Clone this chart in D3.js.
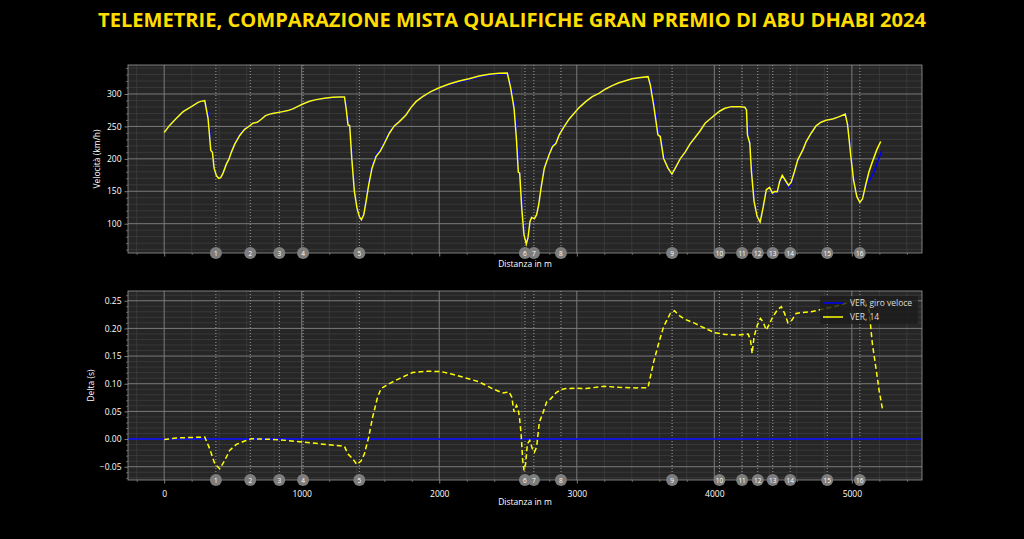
<!DOCTYPE html>
<html>
<head>
<meta charset="utf-8">
<script src="https://cdn.jsdelivr.net/npm/d3@7"></script>
<style>
  body { margin: 0; background: #000; }
  svg { display: block; }
  text { font-family: 'Open Sans', 'Noto Sans', sans-serif; }
</style>
</head>
<body>
<svg id="container" width="1024" height="539"></svg>
<script>
(function (d3) {
  'use strict';

  // speed traces, [distance m, km/h]
  const fastLapSpeed = [
    [0,240.5],[41,252],[89,262.6],[138,272.8],[198,280.5],[247,287],[271,289],[295,289.7],[322,268],[341,215],[353,209],
    [365,184],[380,173],[397,170.5],[411,171],[428,178.5],[452,192.5],[471,200.5],[488,211],[513,224],[549,237.5],[585,246.5],
    [621,251.2],[645,255],[677,256.4],[706,261],[737,266.7],[779,269.7],[827,271.3],[863,272.8],[899,274.4],[936,277],
    [972,281],[1008,284.6],[1057,288.7],[1105,291.3],[1166,293],[1226,294.6],[1274,295.2],[1314,295.4],[1327,277],[1341,252],
    [1352,250.5],[1367,200],[1385,149],[1403,123.5],[1419,111],[1434,106.5],[1451,115],[1468,137],[1487,164],[1511,189],
    [1540,206.5],[1572,215],[1601,226.5],[1637,241],[1673,251.5],[1710,258],[1758,268],[1794,279],[1831,288],[1879,295.5],
    [1939,303],[2000,309],[2072,314.5],[2145,318.8],[2217,322.4],[2290,326.4],[2362,329.2],[2435,330.8],[2500,331.6],
    [2526,308],[2550,278],[2566,232],[2580,180],[2590,177],[2604,124],[2619,84],[2635,69],[2647,78],[2661,103],[2673,109.5],
    [2692,107.5],[2708,114],[2723,130],[2740,156.5],[2764,187],[2781,197.5],[2800,209],[2824,221],[2848,226],[2872,238.5],
    [2908,250.5],[2945,262],[2981,270.5],[3017,279],[3065,288.2],[3113,295.9],[3161,301],[3210,307.7],[3258,312.8],
    [3306,317.4],[3354,320.5],[3402,323.6],[3451,325.1],[3522,326.5],[3542,313],[3566,283],[3596,237],[3612,234],
    [3636,201],[3665,184.5],[3694,176],[3716,184.5],[3752,199],[3788,209.5],[3824,222.5],[3860,232.5],[3896,243],
    [3933,254.9],[3969,261.5],[4005,267.7],[4041,273.5],[4077,277.8],[4125,280.3],[4186,280.3],[4224,279.5],[4237,275],
    [4245,237],[4262,224],[4274,180],[4292,134],[4312,110.5],[4333,102.6],[4354,124],[4378,151.5],[4402,155],[4422,146],
    [4439,148.5],[4458,148],[4475,163.5],[4494,172.5],[4518,165],[4540,156],[4559,161],[4583,178.5],[4607,197],[4644,213],
    [4668,226],[4704,239],[4740,250.5],[4776,256.4],[4812,259.5],[4861,261.5],[4909,265.1],[4955,269],[4972,252],[4996,203.6],
    [5014,168],[5037,142.5],[5058,133],[5077,138],[5101,157],[5113,162.6],[5138,170],[5162,180.5],[5190,197],[5217,212]
  ];

  const lap14Speed = [
    [0,240.5],[41,252],[89,262.6],[138,272.8],[198,280.5],[247,287],[271,289],[295,289.7],[319,262.6],[339,212.8],[351,210],
    [363,185.6],[380,173.8],[397,170],[411,171],[428,178],[452,191.8],[471,199.5],[488,210],[513,222.6],[549,236],[585,245.6],
    [621,250.8],[645,255],[677,256.4],[706,261],[737,266.7],[779,269.7],[827,271.3],[863,272.8],[899,274.4],[936,277],
    [972,281],[1008,284.6],[1057,288.7],[1105,291.3],[1166,293.3],[1226,295],[1274,295.4],[1311,295.4],[1323,278],[1337,252.3],
    [1349,251.4],[1364,201],[1383,149.7],[1402,124],[1419,111],[1434,106],[1451,113.8],[1468,134.4],[1487,160],[1511,185.6],
    [1540,203.6],[1572,212.3],[1601,224],[1637,239.5],[1673,250.8],[1710,257.4],[1758,267.7],[1794,279],[1831,288.2],
    [1879,296],[1939,303.6],[2000,309.7],[2072,315.4],[2145,320],[2217,323.6],[2290,327.7],[2362,330.3],[2435,331.8],
    [2495,332.3],[2520,308.7],[2544,278],[2561,231.8],[2575,179.5],[2585,178],[2600,124],[2616,83.2],[2633,68.7],[2645,78],
    [2660,103.6],[2672,109.7],[2692,107.7],[2708,113.8],[2723,129.2],[2740,154.9],[2764,185.6],[2781,195.9],[2800,207.2],
    [2824,219],[2848,223.6],[2872,236.9],[2908,249.7],[2945,261.5],[2981,270.3],[3017,279],[3065,288.2],[3113,295.9],
    [3161,301],[3210,307.7],[3258,312.8],[3306,317.4],[3354,320.5],[3402,323.6],[3451,325.1],[3518,326.7],[3535,313.8],
    [3559,283],[3590,236.9],[3607,234.4],[3631,201],[3663,185.6],[3692,176.4],[3716,185.6],[3752,200],[3788,210.3],
    [3824,223.1],[3860,232.8],[3896,243],[3933,254.9],[3969,261.5],[4005,267.7],[4041,273.8],[4077,278],[4125,280.5],
    [4186,280.5],[4222,279.5],[4234,275.4],[4241,236.9],[4258,224.1],[4270,180.5],[4289,134.4],[4311,111.3],[4333,102.6],
    [4354,124.1],[4378,152.3],[4402,155.9],[4422,147.2],[4439,149.7],[4458,149.2],[4475,165.1],[4494,174.4],[4518,166.2],
    [4540,159],[4559,164.1],[4583,180.5],[4607,198.5],[4644,213.8],[4668,226.7],[4704,239.5],[4740,250.8],[4776,256.4],
    [4812,259.5],[4861,261.5],[4909,265.1],[4952,269.2],[4969,252.3],[4993,203.6],[5012,167.7],[5036,142.1],[5058,132.8],
    [5077,138],[5101,160],[5125,180.5],[5150,195.9],[5181,213.8],[5210,226.7]
  ];

  // time delta of lap 14 vs fast lap, [distance m, s]
  const lap14Delta = [
    [0,-0.001],[89,0.002],[210,0.003],[295,0.0036],[331,-0.0175],[368,-0.0447],[404,-0.0538],[440,-0.0387],[476,-0.0205],
    [525,-0.0097],[585,-0.0036],[634,0.0006],[694,0],[791,-0.0006],[887,-0.0024],[1008,-0.0054],[1129,-0.0085],[1250,-0.0115],
    [1311,-0.0133],[1335,-0.0266],[1371,-0.0356],[1400,-0.0459],[1431,-0.0399],[1456,-0.0266],[1487,0.0036],[1516,0.0399],
    [1552,0.0761],[1577,0.0912],[1637,0.1003],[1710,0.1093],[1806,0.1202],[1903,0.1226],[2012,0.122],[2096,0.1172],
    [2193,0.1105],[2290,0.1033],[2387,0.0912],[2459,0.0834],[2507,0.0852],[2527,0.0761],[2544,0.0489],[2561,0.061],
    [2573,0.055],[2583,0.04],[2595,0.0097],[2607,-0.0387],[2616,-0.0568],[2628,-0.0447],[2641,-0.0085],[2658,-0.0024],
    [2677,-0.0175],[2692,-0.0236],[2708,-0.0145],[2728,0.0308],[2752,0.0459],[2781,0.067],[2812,0.0731],[2848,0.0834],
    [2884,0.0894],[2920,0.0912],[2993,0.0918],[3065,0.0912],[3198,0.0954],[3306,0.0936],[3427,0.0924],[3518,0.093],
    [3535,0.1123],[3559,0.1395],[3595,0.1727],[3631,0.2029],[3680,0.2271],[3711,0.2319],[3740,0.2241],[3788,0.2162],
    [3860,0.209],[3933,0.2],[4005,0.1921],[4077,0.1891],[4174,0.1878],[4246,0.1897],[4263,0.1788],[4275,0.1546],
    [4289,0.1848],[4313,0.206],[4335,0.218],[4354,0.212],[4378,0.1969],[4402,0.209],[4426,0.2211],[4458,0.2331],
    [4487,0.2392],[4511,0.2271],[4535,0.2102],[4564,0.215],[4595,0.2271],[4644,0.2289],[4704,0.2301],[4776,0.2343],
    [4873,0.2392],[4969,0.2464],[5041,0.25],[5089,0.2513],[5125,0.2331],[5149,0.1727],[5181,0.1184],[5198,0.0882],[5222,0.055]
  ];

  const cornerDistances = [376, 626, 837, 1010, 1419, 2623, 2688, 2885, 3693, 4037, 4202, 4316, 4425, 4552, 4821, 5058];
  const cornerLabels = ['1','2','3','4','5','6','7','8','9','10','11','12','13','14','15','16'];

  const distanceTicks = [0, 1000, 2000, 3000, 4000, 5000];
  const speedTicks = [100, 150, 200, 250, 300];
  const deltaTicks = [-0.05, 0, 0.05, 0.10, 0.15, 0.20, 0.25];

  const seriesNames = ['VER, giro veloce', 'VER, 14'];
  const FAST_COLOR = '#0000ff';
  const LAP_COLOR = '#ffff00';

  const LEFT = 128;
  const RIGHT = 922;

  const svg = d3.select('#container');
  svg.append('rect').attr('width', 1024).attr('height', 539).attr('fill', '#000');

  svg.append('text')
    .attr('x', 512).attr('y', 27)
    .attr('text-anchor', 'middle')
    .attr('textLength', 828)
    .attr('lengthAdjust', 'spacingAndGlyphs')
    .attr('font-size', 20)
    .attr('font-weight', 'bold')
    .attr('fill', '#ffdd00')
    .text('TELEMETRIE, COMPARAZIONE MISTA QUALIFICHE GRAN PREMIO DI ABU DHABI 2024');

  const x = d3.scaleLinear().domain([-263, 5510]).range([LEFT, RIGHT]);
  const xMinor = d3.range(-200, 5501, 200).filter((v) => v % 1000 !== 0);

  const makePanel = (id, top, bottom, yDomain, majorTicks, minorStep, fmt, yLabel, labelX, showXLabels) => {
    const y = d3.scaleLinear().domain(yDomain).range([bottom, top]);
    const g = svg.append('g');
    const yMinor = d3.range(Math.ceil(yDomain[0] / minorStep), Math.floor(yDomain[1] / minorStep) + 1)
      .map((k) => +(k * minorStep).toFixed(4))
      .filter((v) => !majorTicks.some((m) => Math.abs(m - v) < 1e-6));

    g.append('rect')
      .attr('x', LEFT).attr('y', top)
      .attr('width', RIGHT - LEFT).attr('height', bottom - top)
      .attr('fill', '#262626');

    svg.append('clipPath').attr('id', id)
      .append('rect')
      .attr('x', LEFT).attr('y', top)
      .attr('width', RIGHT - LEFT).attr('height', bottom - top);

    // minor grid
    g.selectAll('.hminor').data(yMinor).enter().append('line')
      .attr('x1', LEFT).attr('x2', RIGHT)
      .attr('y1', (v) => y(v)).attr('y2', (v) => y(v))
      .attr('stroke', '#444').attr('stroke-width', 0.6);
    g.selectAll('.vminor').data(xMinor).enter().append('line')
      .attr('x1', (v) => x(v)).attr('x2', (v) => x(v))
      .attr('y1', top).attr('y2', bottom)
      .attr('stroke', '#444').attr('stroke-width', 0.6);

    // major grid
    g.selectAll('.hmajor').data(majorTicks).enter().append('line')
      .attr('x1', LEFT).attr('x2', RIGHT)
      .attr('y1', (v) => y(v)).attr('y2', (v) => y(v))
      .attr('stroke', '#7a7a7a').attr('stroke-width', 1);
    g.selectAll('.vmajor').data(distanceTicks).enter().append('line')
      .attr('x1', (v) => x(v)).attr('x2', (v) => x(v))
      .attr('y1', top).attr('y2', bottom)
      .attr('stroke', '#7a7a7a').attr('stroke-width', 1);

    // corner lines
    g.selectAll('.corner').data(cornerDistances).enter().append('line')
      .attr('x1', (v) => x(v)).attr('x2', (v) => x(v))
      .attr('y1', top).attr('y2', bottom)
      .attr('stroke', '#aaa').attr('stroke-width', 0.9)
      .attr('stroke-dasharray', '1,2');

    const plot = g.append('g').attr('clip-path', `url(#${id})`);

    // spines
    g.append('rect')
      .attr('x', LEFT).attr('y', top)
      .attr('width', RIGHT - LEFT).attr('height', bottom - top)
      .attr('fill', 'none').attr('stroke', '#9a9a9a').attr('stroke-width', 0.8);

    // ticks
    const yAxis = d3.axisLeft(y).tickValues(majorTicks).tickSize(3.5).tickPadding(3).tickFormat(fmt);
    const yAx = g.append('g').attr('transform', `translate(${LEFT},0)`).call(yAxis);
    g.append('g').attr('transform', `translate(${LEFT},0)`)
      .call(d3.axisLeft(y).tickValues(yMinor).tickSize(2).tickFormat(''))
      .call((a) => a.select('.domain').remove())
      .selectAll('line').attr('stroke', '#9a9a9a').attr('stroke-width', 0.6);

    const xAxis = d3.axisBottom(x).tickValues(distanceTicks).tickSize(3.5).tickPadding(7)
      .tickFormat(showXLabels ? d3.format('d') : '');
    const xAx = g.append('g').attr('transform', `translate(0,${bottom})`).call(xAxis);
    g.append('g').attr('transform', `translate(0,${bottom})`)
      .call(d3.axisBottom(x).tickValues(xMinor).tickSize(2).tickFormat(''))
      .call((a) => a.select('.domain').remove())
      .selectAll('line').attr('stroke', '#9a9a9a').attr('stroke-width', 0.6);

    [yAx, xAx].forEach((a) => {
      a.select('.domain').remove();
      a.selectAll('line').attr('stroke', '#9a9a9a').attr('stroke-width', 0.8);
      a.selectAll('text').attr('fill', '#fff').attr('font-size', 8.5)
        .attr('font-family', "'Open Sans', sans-serif");
    });

    g.append('text')
      .attr('transform', `translate(${labelX},${(top + bottom) / 2}) rotate(-90)`)
      .attr('text-anchor', 'middle')
      .attr('font-size', 8.5).attr('fill', '#fff')
      .text(yLabel);

    g.append('text')
      .attr('x', (LEFT + RIGHT) / 2)
      .attr('y', showXLabels ? bottom + 25 : bottom + 14)
      .attr('text-anchor', 'middle')
      .attr('font-size', 8.5).attr('fill', '#fff')
      .text('Distanza in m');

    return { g, plot, y, bottom };
  };

  const drawCorners = (panel) => {
    const marks = svg.append('g');
    cornerDistances.forEach((d, i) => {
      marks.append('circle')
        .attr('cx', x(d)).attr('cy', panel.bottom)
        .attr('r', 6)
        .attr('fill', '#7d7d7d');
      marks.append('text')
        .attr('x', x(d)).attr('y', panel.bottom + 2.5)
        .attr('text-anchor', 'middle')
        .attr('font-size', 6.5).attr('fill', '#fff')
        .text(cornerLabels[i]);
    });
  };

  // speed panel
  const speedPanel = makePanel('clip-speed', 65, 253, [54.8, 344.7], speedTicks, 10,
    d3.format('d'), 'Velocità (km/h)', 100, false);
  const speedLine = d3.line().x((d) => x(d[0])).y((d) => speedPanel.y(d[1]));

  speedPanel.plot.append('path').datum(fastLapSpeed)
    .attr('d', speedLine).attr('fill', 'none')
    .attr('stroke', FAST_COLOR).attr('stroke-width', 1.5);
  speedPanel.plot.append('path').datum(lap14Speed)
    .attr('d', speedLine).attr('fill', 'none')
    .attr('stroke', LAP_COLOR).attr('stroke-width', 1.5);
  drawCorners(speedPanel);

  // delta panel
  const deltaPanel = makePanel('clip-delta', 291, 480, [-0.074, 0.2676], deltaTicks, 0.01,
    d3.format('.2f'), 'Delta (s)', 94, true);
  const deltaLine = d3.line().x((d) => x(d[0])).y((d) => deltaPanel.y(d[1]));

  deltaPanel.plot.append('line')
    .attr('x1', LEFT).attr('x2', RIGHT)
    .attr('y1', deltaPanel.y(0)).attr('y2', deltaPanel.y(0))
    .attr('stroke', FAST_COLOR).attr('stroke-width', 1.6);
  deltaPanel.plot.append('path').datum(lap14Delta)
    .attr('d', deltaLine).attr('fill', 'none')
    .attr('stroke', LAP_COLOR).attr('stroke-width', 1.5)
    .attr('stroke-dasharray', '5,3');
  drawCorners(deltaPanel);

  // legend
  const legend = svg.append('g').attr('transform', 'translate(820,296)');
  legend.append('rect')
    .attr('width', 98).attr('height', 28).attr('rx', 2)
    .attr('fill', '#1c1c1c').attr('fill-opacity', 0.8);
  [FAST_COLOR, LAP_COLOR].forEach((c, i) => {
    legend.append('line')
      .attr('x1', 3).attr('x2', 23)
      .attr('y1', 7 + i * 14).attr('y2', 7 + i * 14)
      .attr('stroke', c).attr('stroke-width', 1.5);
    legend.append('text')
      .attr('x', 30).attr('y', 10 + i * 14)
      .attr('font-size', 8.5).attr('fill', '#ddd')
      .text(seriesNames[i]);
  });

}(d3));
</script>
</body>
</html>
